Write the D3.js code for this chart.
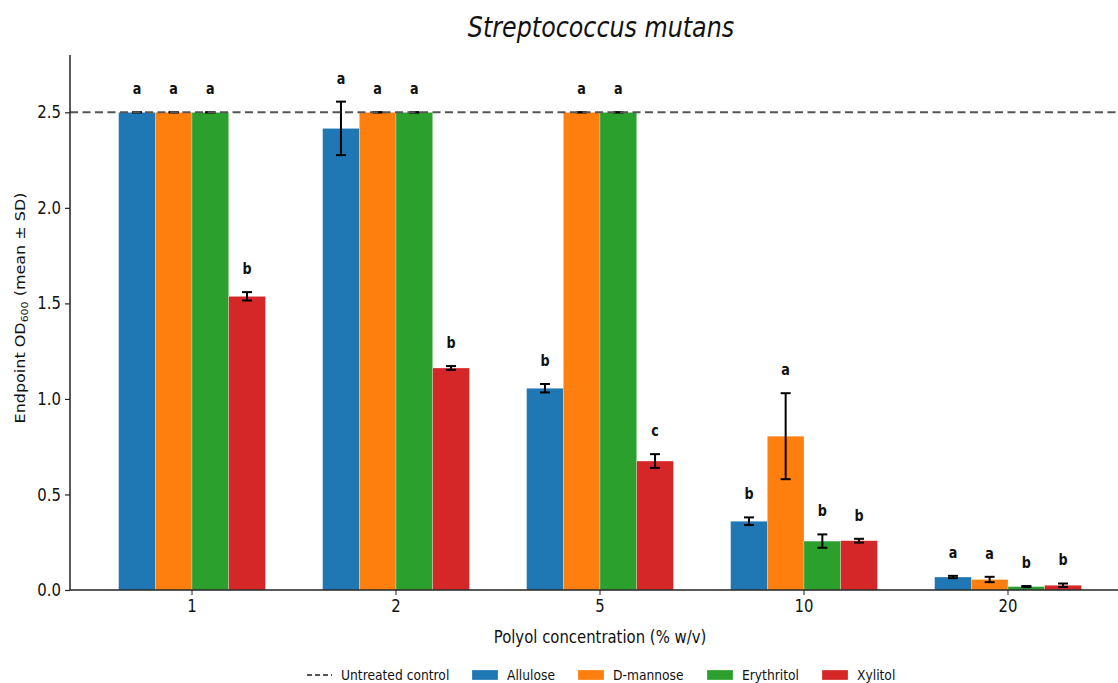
<!DOCTYPE html>
<html>
<head>
<meta charset="utf-8">
<script src="https://cdn.jsdelivr.net/npm/d3@7"></script>
<style>
  body { margin: 0; background: white; }
  text { font-family: "DejaVu Sans", sans-serif; fill: #111; }
</style>
</head>
<body>
<div class="chart"></div>
<script>
var concs = ['1', '2', '5', '10', '20'];
var series = ['Allulose', 'D-mannose', 'Erythritol', 'Xylitol'];
var colors = ['#1f77b4', '#ff7f0e', '#2ca02c', '#d62728'];

// mean values per series, one per concentration
var allulose = [2.5, 2.416, 1.056, 0.360, 0.068];
var dmannose = [2.5, 2.5, 2.5, 0.805, 0.055];
var erythritol = [2.5, 2.5, 2.5, 0.256, 0.018];
var xylitol = [1.537, 1.162, 0.675, 0.258, 0.025];

// standard deviations
var sdAllulose = [0, 0.14, 0.022, 0.02, 0.006];
var sdDmannose = [0, 0, 0, 0.225, 0.014];
var sdErythritol = [0, 0, 0, 0.035, 0.003];
var sdXylitol = [0.022, 0.01, 0.036, 0.01, 0.009];

// significance letters
var lettersAllulose = ['a', 'a', 'b', 'b', 'a'];
var lettersDmannose = ['a', 'a', 'a', 'a', 'a'];
var lettersErythritol = ['a', 'a', 'a', 'b', 'b'];
var lettersXylitol = ['b', 'b', 'c', 'b', 'b'];

var yTicks = [0, 0.5, 1.0, 1.5, 2.0, 2.5];
var controlValue = 2.5;

var means = [allulose, dmannose, erythritol, xylitol];
var sds = [sdAllulose, sdDmannose, sdErythritol, sdXylitol];
var letters = [lettersAllulose, lettersDmannose, lettersErythritol, lettersXylitol];

var width = 1118, height = 683;
var k = 0.85; // horizontal squeeze of the whole figure
var plotLeft = 70, plotRight = 1118, plotTop = 55, plotBottom = 590;

var rows = [];
for (var s = 0; s < series.length; s++) {
    for (var c = 0; c < concs.length; c++) {
        rows.push({
            series: series[s], conc: concs[c], color: colors[s],
            mean: means[s][c], sd: sds[s][c], letter: letters[s][c]
        });
    }
}

var svg = d3.select(".chart").append("svg")
    .attr("width", width)
    .attr("height", height);

var g = svg.append("g").attr("transform", "scale(" + k + ",1)");

var x0 = d3.scaleBand().domain(concs).range([90 / k, 1110 / k]);
var x1 = d3.scaleBand().domain(series).range([0, x0.bandwidth()]).paddingOuter(0.78);
var y = d3.scaleLinear().domain([0, 2.8]).range([plotBottom, plotTop]);

// bars
g.selectAll(".bar").data(rows).enter().append("rect")
    .attr("class", "bar")
    .attr("x", function(d) { return x0(d.conc) + x1(d.series); })
    .attr("y", function(d) { return y(d.mean); })
    .attr("width", x1.bandwidth())
    .attr("height", function(d) { return y(0) - y(d.mean); })
    .attr("fill", function(d) { return d.color; })
    .attr("stroke", "white")
    .attr("stroke-opacity", 0.5)
    .attr("stroke-width", 0.6);

// error bars
var cap = 5 / k;
var err = g.selectAll(".err").data(rows).enter().append("g").attr("class", "err");
function cx(d) { return x0(d.conc) + x1(d.series) + x1.bandwidth() / 2; }
err.append("line")
    .attr("x1", cx).attr("x2", cx)
    .attr("y1", function(d) { return y(d.mean - d.sd); })
    .attr("y2", function(d) { return y(d.mean + d.sd); })
    .attr("stroke", "black").attr("stroke-width", 2 / k);
err.append("line")
    .attr("x1", function(d) { return cx(d) - cap; })
    .attr("x2", function(d) { return cx(d) + cap; })
    .attr("y1", function(d) { return y(d.mean + d.sd); })
    .attr("y2", function(d) { return y(d.mean + d.sd); })
    .attr("stroke", "black").attr("stroke-width", 2);
err.append("line")
    .attr("x1", function(d) { return cx(d) - cap; })
    .attr("x2", function(d) { return cx(d) + cap; })
    .attr("y1", function(d) { return y(d.mean - d.sd); })
    .attr("y2", function(d) { return y(d.mean - d.sd); })
    .attr("stroke", "black").attr("stroke-width", 2);

// letters
g.selectAll(".letter").data(rows).enter().append("text")
    .attr("class", "letter")
    .attr("x", cx)
    .attr("y", function(d) { return y(d.mean + d.sd) - 18; })
    .attr("text-anchor", "middle")
    .style("font-size", "15px")
    .style("font-weight", "bold")
    .text(function(d) { return d.letter; });

// untreated control line
g.append("line")
    .attr("x1", plotLeft / k).attr("x2", plotRight / k)
    .attr("y1", y(controlValue)).attr("y2", y(controlValue))
    .attr("stroke", "#555")
    .attr("stroke-width", 2)
    .attr("stroke-dasharray", (8 / k) + "," + (4.5 / k));

// axes
var xAxis = d3.axisBottom(x0).tickSize(5).tickSizeOuter(0).tickPadding(5);
var yAxis = d3.axisLeft(y).tickValues(yTicks).tickFormat(d3.format(".1f"))
    .tickSize(5 / k).tickPadding(4 / k);

var gx = g.append("g")
    .attr("transform", "translate(0," + plotBottom + ")")
    .call(xAxis);
gx.select(".domain").remove();
gx.append("line").attr("x1", plotLeft / k).attr("x2", plotRight / k)
    .attr("stroke", "#222").attr("stroke-width", 1.5);

var gy = g.append("g")
    .attr("transform", "translate(" + (plotLeft / k) + ",0)")
    .call(yAxis);
gy.select(".domain").attr("d", "M0," + plotBottom + "V" + plotTop)
    .attr("stroke", "#222").attr("stroke-width", 1.5 / k);

g.selectAll(".tick line").attr("stroke", "#222").attr("stroke-width", 1.2);
g.selectAll(".tick text").style("font-size", "17.5px")
    .style("font-family", "DejaVu Sans").attr("fill", "#111");

// title and labels
g.append("text")
    .attr("x", 601 / k).attr("y", 37)
    .attr("text-anchor", "middle")
    .style("font-size", "28px")
    .style("font-style", "italic")
    .text("Streptococcus mutans");

g.append("text")
    .attr("x", 600 / k).attr("y", 643)
    .attr("text-anchor", "middle")
    .style("font-size", "17.5px")
    .text("Polyol concentration (% w/v)");

var yl = g.append("text")
    .attr("transform", "translate(" + (25 / k) + ",308) rotate(-90)")
    .attr("text-anchor", "middle")
    .style("font-size", "16px");
yl.append("tspan").text("Endpoint OD");
yl.append("tspan").attr("dy", 3).style("font-size", "11px").text("600");
yl.append("tspan").attr("dy", -3).text(" (mean \u00b1 SD)");

// legend
var lg = g.append("g").attr("transform", "translate(0,675)");
lg.append("line")
    .attr("x1", 307 / k).attr("x2", 332 / k)
    .attr("stroke", "#555").attr("stroke-width", 2)
    .attr("stroke-dasharray", (5 / k) + "," + (3 / k));
lg.append("text").attr("x", 341 / k).attr("y", 5)
    .style("font-size", "14.5px").text("Untreated control");

var legendX = [472, 578, 707, 822];
var items = lg.selectAll(".item").data(series).enter().append("g")
    .attr("class", "item")
    .attr("transform", function(d, i) { return "translate(" + (legendX[i] / k) + ",0)"; });
items.append("rect")
    .attr("x", 0).attr("y", -5)
    .attr("width", 26 / k).attr("height", 10)
    .attr("fill", function(d, i) { return colors[i]; })
    .attr("stroke", "white").attr("stroke-opacity", 0.5).attr("stroke-width", 0.6);
items.append("text")
    .attr("x", 35 / k).attr("y", 5)
    .style("font-size", "14.5px")
    .text(function(d) { return d; });
</script>
</body>
</html>
